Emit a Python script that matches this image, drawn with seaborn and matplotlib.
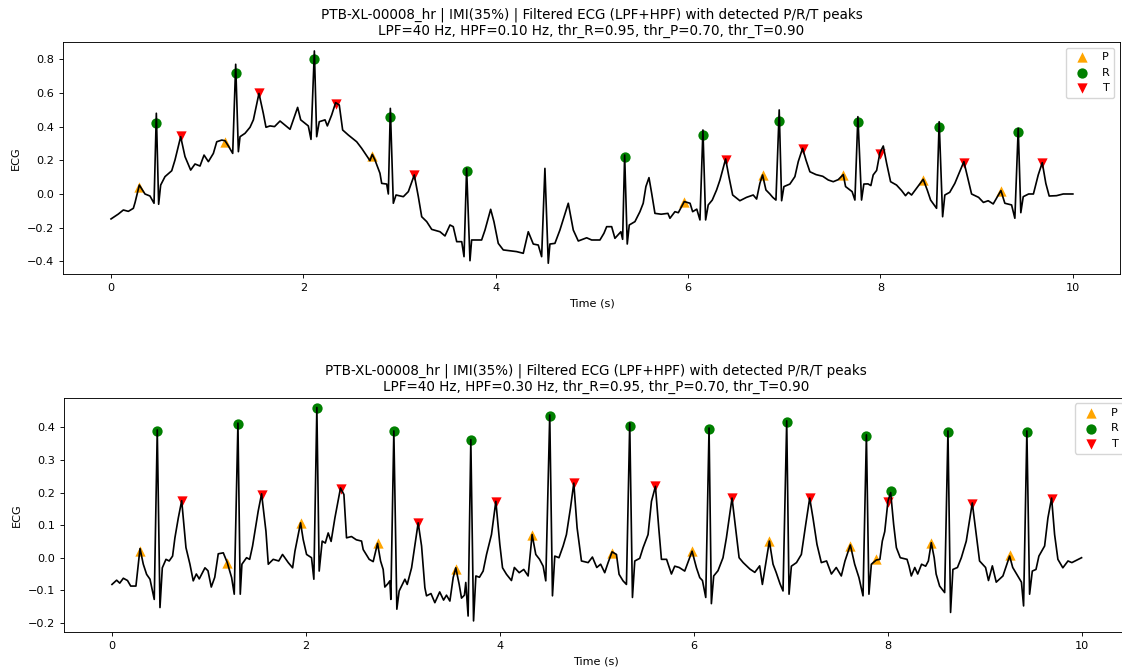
import numpy as np
import pandas as pd
import matplotlib
matplotlib.use("Agg")
import matplotlib.pyplot as plt
import seaborn as sns

# ---- filtered ECG, HPF = 0.10 Hz (top panel) ----
t_top = [0.00, 0.076, 0.128, 0.18, 0.232, 0.25, 0.294, 0.353, 0.405, 0.447, 0.471, 0.495, 0.516, 0.561,
         0.631, 0.665, 0.724, 0.769, 0.828, 0.873, 0.925, 0.967, 1.012, 1.064, 1.099, 1.151, 1.185, 1.22,
         1.265, 1.296, 1.324, 1.341, 1.393, 1.445, 1.48, 1.538, 1.583, 1.611, 1.653, 1.70, 1.757, 1.861,
         1.94, 1.972, 2.051, 2.079, 2.114, 2.138, 2.165, 2.225, 2.249, 2.294, 2.335, 2.373, 2.408, 2.467,
         2.554, 2.606, 2.692, 2.716, 2.744, 2.796, 2.814, 2.866, 2.883, 2.904, 2.935, 2.963, 3.039, 3.091,
         3.153, 3.195, 3.23, 3.282, 3.334, 3.42, 3.472, 3.524, 3.558, 3.594, 3.646, 3.67, 3.697, 3.732,
         3.749, 3.853, 3.888, 3.947, 3.981, 4.026, 4.078, 4.217, 4.286, 4.338, 4.39, 4.442, 4.477, 4.511,
         4.546, 4.563, 4.615, 4.667, 4.754, 4.806, 4.858, 4.945, 4.997, 5.083, 5.125, 5.153, 5.205, 5.239,
         5.301, 5.319, 5.34, 5.367, 5.388, 5.447, 5.499, 5.533, 5.561, 5.593, 5.621, 5.655, 5.72, 5.79,
         5.811, 5.863, 5.898, 5.96, 6.02, 6.047, 6.09, 6.123, 6.154, 6.182, 6.209, 6.251, 6.296, 6.331,
         6.39, 6.424, 6.463, 6.538, 6.607, 6.677, 6.712, 6.746, 6.774, 6.809, 6.85, 6.88, 6.913, 6.947,
         6.972, 6.996, 7.058, 7.11, 7.145, 7.19, 7.225, 7.266, 7.33, 7.40, 7.457, 7.509, 7.56, 7.613,
         7.637, 7.705, 7.734, 7.765, 7.803, 7.827, 7.87, 7.90, 7.924, 7.96, 7.994, 8.029, 8.064, 8.105,
         8.167, 8.22, 8.26, 8.29, 8.323, 8.375, 8.444, 8.486, 8.521, 8.583, 8.61, 8.646, 8.669, 8.72,
         8.773, 8.867, 8.912, 8.947, 9.02, 9.07, 9.12, 9.172, 9.252, 9.293, 9.363, 9.397, 9.432, 9.459,
         9.484, 9.54, 9.59, 9.64, 9.682, 9.719, 9.754, 9.83, 9.90, 10.0]
ecg_top = [-0.148, -0.119, -0.095, -0.103, -0.085, -0.05, 0.053, 0.0, -0.012, -0.055, 0.479, -0.061, 0.053, 0.103,
           0.138, 0.202, 0.34, 0.222, 0.142, 0.178, 0.166, 0.231, 0.192, 0.241, 0.31, 0.32, 0.316, 0.285,
           0.241, 0.77, 0.251, 0.34, 0.36, 0.396, 0.44, 0.597, 0.479, 0.396, 0.404, 0.40, 0.433, 0.384,
           0.514, 0.44, 0.404, 0.324, 0.849, 0.34, 0.429, 0.44, 0.404, 0.469, 0.542, 0.528, 0.38, 0.35,
           0.31, 0.271, 0.198, 0.235, 0.202, 0.123, 0.063, 0.059, 0.0, 0.508, -0.055, -0.006, -0.016, 0.014,
           0.113, -0.016, -0.135, -0.164, -0.21, -0.224, -0.249, -0.184, -0.194, -0.283, -0.283, -0.372, 0.152, -0.396,
           -0.273, -0.273, -0.214, -0.091, -0.164, -0.293, -0.332, -0.342, -0.352, -0.224, -0.297, -0.303, -0.372, 0.152,
           -0.411, -0.297, -0.293, -0.214, -0.055, -0.214, -0.279, -0.26, -0.273, -0.273, -0.233, -0.194, -0.194, -0.263,
           -0.224, -0.269, 0.231, -0.297, -0.184, -0.164, -0.105, -0.055, 0.044, 0.097, 0.004, -0.115, -0.12, -0.115,
           -0.144, -0.105, -0.111, -0.045, -0.055, -0.105, -0.09, -0.154, 0.38, -0.154, -0.065, -0.036, 0.024, 0.083,
           0.208, 0.103, -0.006, -0.04, -0.02, -0.006, -0.03, 0.063, 0.113, 0.024, 0.0, -0.02, -0.036, 0.499,
           -0.04, 0.044, 0.059, 0.103, 0.192, 0.271, 0.202, 0.132, 0.115, 0.105, 0.083, 0.073, 0.085, 0.115,
           0.044, 0.014, -0.036, 0.459, -0.036, 0.059, 0.06, 0.05, 0.113, 0.14, 0.245, 0.285, 0.182, 0.073,
           0.053, 0.02, -0.01, 0.01, -0.006, 0.034, 0.087, 0.024, -0.036, -0.085, 0.429, -0.135, -0.006, 0.01,
           0.063, 0.192, 0.083, 0.0, -0.02, -0.05, -0.04, -0.059, 0.02, -0.055, -0.065, -0.144, 0.39, -0.111,
           -0.016, 0.0, 0.0, 0.113, 0.186, 0.063, -0.012, -0.01, 0.0, 0.0]

p_t_top = [0.294, 1.185, 2.716, 5.96, 6.774, 7.613, 8.444, 9.252]
p_v_top = [0.04, 0.31, 0.225, -0.05, 0.11, 0.115, 0.085, 0.015]
r_t_top = [0.471, 1.296, 2.114, 2.904, 3.697, 5.34, 6.154, 6.947, 7.765, 8.61, 9.432]
r_v_top = [0.42, 0.72, 0.80, 0.455, 0.135, 0.22, 0.352, 0.435, 0.43, 0.40, 0.368]
t_t_top = [0.724, 1.538, 2.335, 3.153, 6.39, 7.19, 7.994, 8.867, 9.682]
t_v_top = [0.345, 0.597, 0.532, 0.11, 0.203, 0.265, 0.24, 0.185, 0.183]

# ---- filtered ECG, HPF = 0.30 Hz (bottom panel) ----
t_bot = [0.0, 0.048, 0.08, 0.117, 0.16, 0.193, 0.247, 0.289, 0.323, 0.357, 0.392, 0.436, 0.467, 0.495,
         0.519, 0.557, 0.59, 0.625, 0.649, 0.684, 0.719, 0.763, 0.804, 0.838, 0.87, 0.90, 0.959, 0.99,
         1.024, 1.06, 1.096, 1.148, 1.189, 1.234, 1.261, 1.299, 1.323, 1.34, 1.388, 1.42, 1.45, 1.508,
         1.543, 1.588, 1.612, 1.663, 1.72, 1.759, 1.818, 1.863, 1.887, 1.914, 1.945, 1.972, 2.007, 2.058,
         2.082, 2.113, 2.137, 2.168, 2.20, 2.23, 2.26, 2.299, 2.357, 2.392, 2.419, 2.47, 2.52, 2.574,
         2.591, 2.653, 2.694, 2.739, 2.77, 2.797, 2.814, 2.845, 2.866, 2.876, 2.907, 2.938, 2.962, 3.021,
         3.045, 3.09, 3.158, 3.193, 3.227, 3.244, 3.29, 3.33, 3.38, 3.42, 3.45, 3.485, 3.519, 3.546,
         3.581, 3.605, 3.635, 3.649, 3.673, 3.701, 3.729, 3.753, 3.79, 3.828, 3.863, 3.914, 3.959, 4.0,
         4.028, 4.069, 4.12, 4.15, 4.2, 4.247, 4.292, 4.333, 4.371, 4.41, 4.447, 4.474, 4.515, 4.543,
         4.567, 4.61, 4.653, 4.687, 4.729, 4.763, 4.797, 4.842, 4.911, 4.955, 5.0, 5.04, 5.082, 5.117,
         5.158, 5.203, 5.23, 5.271, 5.306, 5.34, 5.368, 5.392, 5.443, 5.478, 5.529, 5.564, 5.605, 5.639,
         5.667, 5.72, 5.77, 5.804, 5.85, 5.907, 5.983, 6.028, 6.062, 6.09, 6.124, 6.158, 6.182, 6.206,
         6.25, 6.302, 6.337, 6.395, 6.423, 6.468, 6.51, 6.58, 6.63, 6.68, 6.708, 6.78, 6.818, 6.85,
         6.89, 6.921, 6.959, 6.983, 7.007, 7.06, 7.11, 7.155, 7.196, 7.23, 7.271, 7.316, 7.37, 7.42,
         7.47, 7.522, 7.56, 7.615, 7.66, 7.704, 7.746, 7.781, 7.807, 7.832, 7.883, 7.92, 7.945, 7.97,
         8.003, 8.031, 8.062, 8.09, 8.13, 8.2, 8.22, 8.244, 8.28, 8.31, 8.35, 8.392, 8.42, 8.45,
         8.48, 8.50, 8.536, 8.588, 8.622, 8.649, 8.673, 8.72, 8.76, 8.811, 8.873, 8.914, 8.948, 9.01,
         9.04, 9.08, 9.12, 9.189, 9.258, 9.29, 9.33, 9.38, 9.402, 9.436, 9.464, 9.492, 9.53, 9.56,
         9.619, 9.653, 9.691, 9.722, 9.756, 9.807, 9.86, 9.9, 10.0]
ecg_bot = [-0.082, -0.069, -0.078, -0.063, -0.07, -0.087, -0.087, 0.028, -0.02, -0.051, -0.066, -0.128, 0.392, -0.153,
           -0.031, -0.005, -0.01, 0.005, 0.061, 0.122, 0.175, 0.031, -0.02, -0.071, -0.05, -0.065, -0.031, -0.04,
           -0.09, -0.06, 0.012, 0.015, -0.015, -0.061, -0.112, 0.413, -0.112, -0.02, 0.0, -0.005, 0.036, 0.143,
           0.196, 0.081, -0.02, -0.005, -0.01, 0.01, -0.015, -0.031, 0.02, 0.061, 0.107, 0.056, 0.01, 0.0,
           -0.066, 0.461, -0.041, 0.051, 0.045, 0.076, 0.05, 0.122, 0.214, 0.194, 0.061, 0.065, 0.055, 0.051,
           0.025, -0.005, -0.012, 0.044, -0.01, -0.036, -0.09, -0.08, -0.071, -0.128, 0.389, -0.158, -0.102, -0.066,
           -0.082, -0.031, 0.107, 0.036, -0.092, -0.117, -0.11, -0.138, -0.105, -0.13, -0.115, -0.133, -0.061, -0.031,
           -0.082, -0.124, -0.115, -0.076, -0.179, 0.362, -0.194, -0.056, -0.06, -0.041, 0.01, 0.071, 0.173, 0.041,
           -0.031, -0.051, -0.07, -0.03, -0.046, -0.036, -0.056, 0.071, 0.01, -0.005, -0.026, -0.071, 0.438, -0.117,
           0.005, 0.0, 0.036, 0.071, 0.153, 0.229, 0.092, -0.01, -0.015, 0.002, -0.03, -0.02, -0.046, -0.015,
           0.018, 0.01, -0.051, -0.071, -0.082, 0.413, -0.122, -0.01, -0.002, 0.031, 0.071, 0.173, 0.219, 0.092,
           -0.005, -0.005, -0.05, -0.026, -0.03, -0.041, 0.02, -0.031, -0.061, -0.07, -0.122, 0.398, -0.141, -0.056,
           -0.04, 0.0, 0.061, 0.183, 0.112, 0.0, -0.015, -0.035, -0.045, -0.025, -0.082, 0.051, -0.02, -0.045,
           -0.08, -0.102, 0.42, -0.112, -0.026, -0.015, 0.01, 0.102, 0.183, 0.122, 0.041, -0.015, -0.01, -0.05,
           -0.03, -0.056, -0.01, 0.039, -0.02, -0.061, -0.117, 0.377, -0.112, -0.02, -0.007, -0.005, 0.051, 0.08,
           0.173, 0.2, 0.102, 0.031, 0.0, -0.005, -0.025, -0.056, -0.03, -0.05, -0.02, -0.026, -0.01, 0.046,
           0.0, -0.05, -0.087, -0.107, 0.389, -0.168, -0.036, -0.03, 0.0, 0.051, 0.168, 0.071, -0.01, -0.03,
           -0.07, -0.025, -0.075, -0.056, 0.005, -0.03, -0.05, -0.075, -0.148, 0.389, -0.112, -0.041, -0.036, 0.005,
           0.036, 0.122, 0.183, 0.071, -0.005, -0.031, -0.01, -0.015, 0.0]

p_t_bot = [0.289, 1.189, 1.945, 2.739, 3.546, 4.333, 5.158, 5.983, 6.78, 7.615, 7.883, 8.45, 9.258]
p_v_bot = [0.02, -0.015, 0.105, 0.045, -0.035, 0.07, 0.015, 0.02, 0.05, 0.035, -0.005, 0.045, 0.008]
r_t_bot = [0.467, 1.299, 2.113, 2.907, 3.701, 4.515, 5.34, 6.158, 6.959, 7.781, 8.031, 8.622, 9.436]
r_v_bot = [0.39, 0.41, 0.458, 0.388, 0.36, 0.435, 0.405, 0.395, 0.415, 0.375, 0.206, 0.385, 0.385]
t_t_bot = [0.719, 1.543, 2.357, 3.158, 3.959, 4.763, 5.605, 6.395, 7.196, 8.003, 8.873, 9.691]
t_v_bot = [0.175, 0.192, 0.212, 0.105, 0.17, 0.228, 0.22, 0.183, 0.182, 0.172, 0.165, 0.18]

titles = [
    "PTB-XL-00008_hr | IMI(35%) | Filtered ECG (LPF+HPF) with detected P/R/T peaks\n"
    "LPF=40 Hz, HPF=0.10 Hz, thr_R=0.95, thr_P=0.70, thr_T=0.90",
    "PTB-XL-00008_hr | IMI(35%) | Filtered ECG (LPF+HPF) with detected P/R/T peaks\n"
    "LPF=40 Hz, HPF=0.30 Hz, thr_R=0.95, thr_P=0.70, thr_T=0.90",
]

# figure was rendered at ~0.81 of the default scale
k = 0.81
plt.rcParams.update({
    "font.size": 10 * k,
    "axes.linewidth": 0.8 * k,
    "xtick.major.size": 3.5 * k,
    "ytick.major.size": 3.5 * k,
    "xtick.major.width": 0.8 * k,
    "ytick.major.width": 0.8 * k,
    "axes.titlesize": 12 * k,
})

fig = plt.figure(figsize=(11.22, 6.69), dpi=100)
ax1 = fig.add_axes([0.0561, 0.5904, 0.9421, 0.3468])
ax2 = fig.add_axes([0.0566, 0.0553, 0.9497, 0.3502])

panels = [
    (ax1, t_top, ecg_top, (p_t_top, p_v_top), (r_t_top, r_v_top), (t_t_top, t_v_top), (-0.475, 0.902)),
    (ax2, t_bot, ecg_bot, (p_t_bot, p_v_bot), (r_t_bot, r_v_bot), (t_t_bot, t_v_bot), (-0.228, 0.491)),
]

for i, (ax, tt, vv, P, R, T, ylim) in enumerate(panels):
    df = pd.DataFrame({"t": tt, "ecg": vv})
    sns.lineplot(data=df, x="t", y="ecg", color="black", linewidth=1.5 * k,
                 estimator=None, sort=False, ax=ax)
    sns.scatterplot(x=P[0], y=P[1], marker="^", color="orange", s=55, linewidth=0, label="P", ax=ax)
    sns.scatterplot(x=R[0], y=R[1], marker="o", color="green", s=55, linewidth=0, label="R", ax=ax)
    sns.scatterplot(x=T[0], y=T[1], marker="v", color="red", s=55, linewidth=0, label="T", ax=ax)
    ax.set_xlim(-0.5, 10.49)
    ax.set_ylim(*ylim)
    ax.set_xticks([0, 2, 4, 6, 8, 10])
    ax.set_xlabel("Time (s)")
    ax.set_ylabel("ECG")
    ax.set_title(titles[i], pad=6 * k)
    ax.legend(loc="upper right")

fig.savefig("out.png", dpi=100)
